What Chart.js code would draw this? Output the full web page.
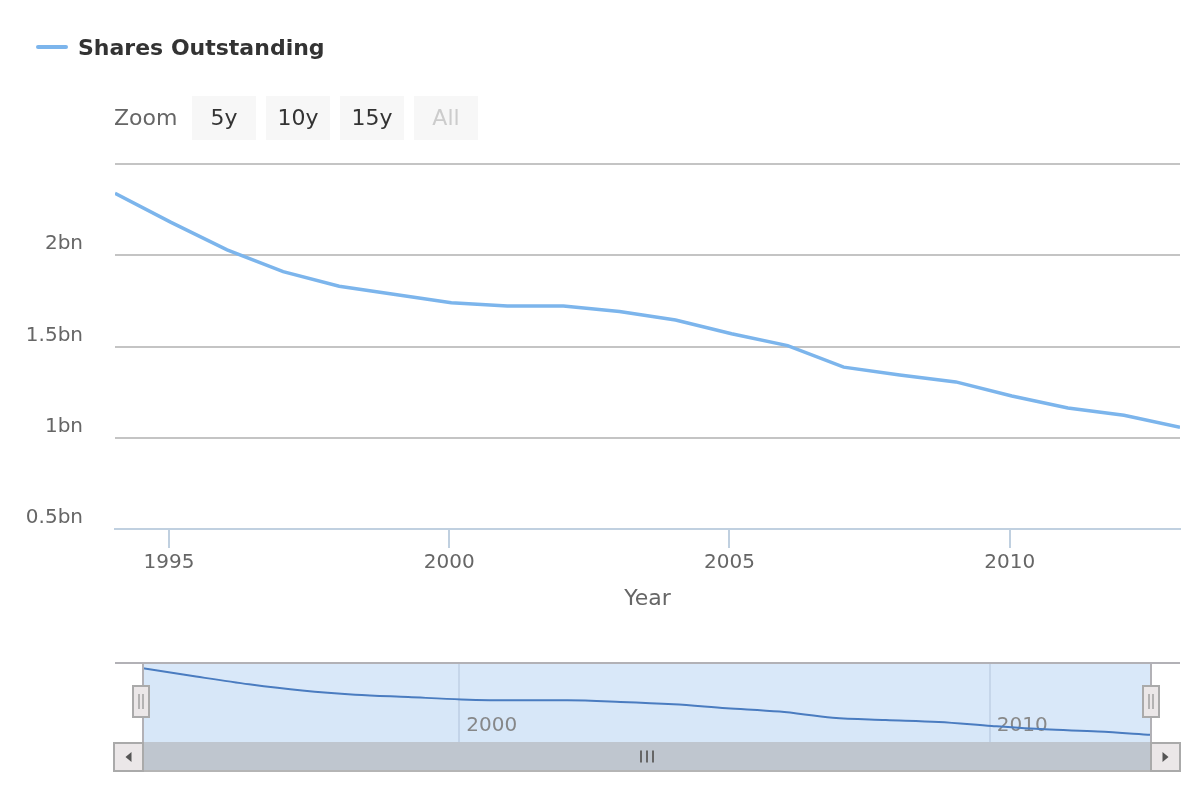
<!DOCTYPE html>
<html>
<head>
<meta charset="utf-8">
<script src="https://cdn.jsdelivr.net/npm/chart.js@4.4.0/dist/chart.umd.min.js"></script>
<style>
html,body{margin:0;padding:0;background:#fff;}
body{width:1200px;height:800px;position:relative;overflow:hidden;font-family:"DejaVu Sans",sans-serif;}
#main{position:absolute;left:0;top:0;}
#nav{position:absolute;left:0;top:640px;}
#legend{position:absolute;left:36px;top:33px;height:28px;display:flex;align-items:center;z-index:2;}
#legend .sym{width:32px;height:4px;background:#7cb5ec;margin-right:10px;border-radius:2px;}
#legend .txt{font-weight:bold;font-size:22px;color:#333;white-space:nowrap;}
#zoom{position:absolute;left:114px;top:96px;height:44px;width:380px;z-index:2;}
#zoom .zl{position:absolute;left:0;top:0;line-height:44px;font-size:22px;color:#666;}
#zoom .btn{position:absolute;top:0;width:64px;height:44px;line-height:44px;text-align:center;background:#f7f7f7;font-size:22px;color:#333;}
#zoom .btn.dis{color:#cccccc;}
</style>
</head>
<body>
<canvas id="main" width="1200" height="620"></canvas>
<canvas id="nav" width="1200" height="160"></canvas>
<div id="legend"><div class="sym"></div><div class="txt">Shares Outstanding</div></div>
<div id="zoom">
  <div class="zl">Zoom</div>
  <div class="btn" style="left:78px">5y</div>
  <div class="btn" style="left:152px">10y</div>
  <div class="btn" style="left:226px">15y</div>
  <div class="btn dis" style="left:300px">All</div>
</div>
<script>
// ---- data ----
const periods = ['1994-01-15','1995-01-15','1996-01-15','1997-01-15','1998-01-15','1999-01-15','2000-01-15',
  '2001-01-15','2002-01-15','2003-01-15','2004-01-15','2005-01-15','2006-01-15','2007-01-15','2008-01-15',
  '2009-01-15','2010-01-15','2011-01-15','2012-01-15','2013-01-15'];
const sharesOutstanding = [2.34e9, 2.18e9, 2.03e9, 1.91e9, 1.83e9, 1.785e9, 1.74e9,
  1.722e9, 1.722e9, 1.692e9, 1.645e9, 1.57e9, 1.505e9, 1.387e9, 1.344e9,
  1.306e9, 1.229e9, 1.163e9, 1.123e9, 1.058e9];
const yTickValues = [0.5e9, 1e9, 1.5e9, 2e9, 2.5e9];
const xTickYears = [1995, 2000, 2005, 2010];
const navTickYears = [2000, 2010];
const seriesName = 'Shares Outstanding';
const xTitle = 'Year';

function toYear(s){
  const d = Date.parse(s + 'T00:00:00Z');
  const y = new Date(d).getUTCFullYear();
  const a = Date.UTC(y,0,1), b = Date.UTC(y+1,0,1);
  return y + (d - a) / (b - a);
}
const points = periods.map((p,i)=>({x: toYear(p), y: sharesOutstanding[i]}));
const xMin = points[0].x, xMax = points[points.length-1].x;
const FONT = '"DejaVu Sans", sans-serif';

function fmtBn(v){
  if (v >= 2.5e9 - 1) return '';
  return (Math.round(v/1e8)/10) + 'bn';
}

new Chart(document.getElementById('main'), {
  type: 'line',
  data: { datasets: [{
    label: seriesName, data: points,
    borderColor: '#7cb5ec', borderWidth: 3.5, pointRadius: 0, tension: 0, fill: false
  }]},
  options: {
    responsive: false, animation: false, events: [],
    layout: { padding: { left: 0, right: 20, top: 164, bottom: 0 } },
    plugins: { legend: { display: false }, tooltip: { enabled: false } },
    scales: {
      x: {
        type: 'linear', min: xMin, max: xMax,
        afterBuildTicks: s => { s.ticks = xTickYears.map(v => ({ value: v })); },
        afterFit: s => { s.height = 91; },
        grid: { drawOnChartArea: false, drawTicks: true, tickLength: 19, color: '#c0d0e0', lineWidth: 2 },
        border: { display: true, color: '#c0d0e0', width: 2 },
        ticks: { color: '#666', font: { family: FONT, size: 20 }, padding: 3, maxRotation: 0, autoSkip: false,
                 callback: v => String(v) },
        title: { display: true, text: xTitle, color: '#666', font: { family: FONT, size: 22 }, padding: { top: 0, bottom: 8 } }
      },
      y: {
        min: 0.5e9, max: 2.5e9,
        afterBuildTicks: s => { s.ticks = yTickValues.map(v => ({ value: v })); },
        afterFit: s => { s.width = 115; },
        grid: { drawTicks: false, lineWidth: 2,
                color: c => (c.tick && c.tick.value === yTickValues[0]) ? 'rgba(0,0,0,0)' : '#c4c4c4' },
        border: { display: false },
        ticks: { color: '#666', font: { family: FONT, size: 20 }, padding: 32, labelOffset: -11,
                 callback: v => fmtBn(v) }
      }
    }
  }
});

// ---- navigator ----
const navDeco = {
  id: 'navDeco',
  beforeDraw(chart) {
    const a = chart.chartArea, ctx = chart.ctx;
    ctx.save();
    ctx.fillStyle = 'rgba(128,179,236,0.3)';
    ctx.fillRect(a.left, a.top, a.right - a.left, a.bottom - a.top);
    ctx.restore();
  },
  afterDraw(chart) {
    const a = chart.chartArea, ctx = chart.ctx;
    const bw = 29, sh = 29;
    ctx.save();
    // scrollbar bar
    ctx.fillStyle = '#bfc6cf';
    ctx.fillRect(a.left, a.bottom, a.right - a.left, sh);
    ctx.strokeStyle = '#b5b5b5'; ctx.lineWidth = 2;
    ctx.beginPath(); ctx.moveTo(a.left - bw, a.bottom + sh); ctx.lineTo(a.right + bw, a.bottom + sh); ctx.stroke();
    // rifles
    const cx = (a.left + a.right) / 2, cy = a.bottom + sh / 2;
    ctx.strokeStyle = '#666'; ctx.lineWidth = 2;
    [-6, 0, 6].forEach(d => { ctx.beginPath(); ctx.moveTo(Math.round(cx + d), cy - 6); ctx.lineTo(Math.round(cx + d), cy + 6); ctx.stroke(); });
    // buttons
    function button(x, dir) {
      ctx.fillStyle = '#ebe7e8';
      ctx.fillRect(x, a.bottom, bw, sh);
      ctx.strokeStyle = '#aaaaaa'; ctx.lineWidth = 2;
      ctx.strokeRect(x, a.bottom + 1, bw, sh - 1);
      const mx = x + bw / 2, my = a.bottom + sh / 2 + 0.5;
      ctx.fillStyle = '#555';
      ctx.beginPath();
      ctx.moveTo(mx - 3 * dir, my);
      ctx.lineTo(mx + 3 * dir, my - 5);
      ctx.lineTo(mx + 3 * dir, my + 5);
      ctx.closePath(); ctx.fill();
    }
    button(a.left - bw, 1);
    button(a.right, -1);
    // outline
    ctx.strokeStyle = '#b2b1b6'; ctx.lineWidth = 2;
    ctx.beginPath();
    ctx.moveTo(a.left - bw + 1, a.top); ctx.lineTo(a.right + bw, a.top);
    ctx.moveTo(a.left, a.top); ctx.lineTo(a.left, a.bottom);
    ctx.moveTo(a.right, a.top); ctx.lineTo(a.right, a.bottom);
    ctx.stroke();
    // handles
    function handle(x0) {
      const hy = a.top + 23, hh = 31, hw = 16;
      ctx.fillStyle = '#ebe7e8';
      ctx.fillRect(x0, hy, hw, hh);
      ctx.strokeStyle = '#aaaaaa'; ctx.lineWidth = 2;
      ctx.strokeRect(x0, hy, hw, hh);
      ctx.lineWidth = 1.5; ctx.strokeStyle = '#a0a0a0';
      [6, 10].forEach(d => { ctx.beginPath(); ctx.moveTo(x0 + d, hy + 8); ctx.lineTo(x0 + d, hy + hh - 8); ctx.stroke(); });
    }
    handle(a.left - 10);
    handle(a.right - 8);
    ctx.restore();
  }
};

new Chart(document.getElementById('nav'), {
  type: 'line',
  data: { datasets: [{
    label: seriesName, data: points,
    borderColor: '#4a7cc0', borderWidth: 2, pointRadius: 0,
    cubicInterpolationMode: 'monotone', fill: 'start', backgroundColor: 'rgba(69,114,167,0.015)'
  }]},
  options: {
    responsive: false, animation: false, events: [],
    layout: { padding: { left: 143, right: 49, top: 23, bottom: 58 } },
    plugins: { legend: { display: false }, tooltip: { enabled: false } },
    scales: {
      x: {
        type: 'linear', min: xMin, max: xMax,
        afterBuildTicks: s => { s.ticks = navTickYears.map(v => ({ value: v })); },
        afterFit: s => { s.height = 0; },
        grid: { drawTicks: false, color: '#c6d6ea', lineWidth: 2 },
        border: { display: false },
        ticks: { mirror: true, align: 'start', labelOffset: 7, padding: 4, color: '#888', font: { family: FONT, size: 20 },
                 maxRotation: 0, autoSkip: false, callback: v => String(v) }
      },
      y: { display: false, min: 0.92e9, max: 2.44e9 }
    }
  },
  plugins: [navDeco]
});
</script>
</body>
</html>
